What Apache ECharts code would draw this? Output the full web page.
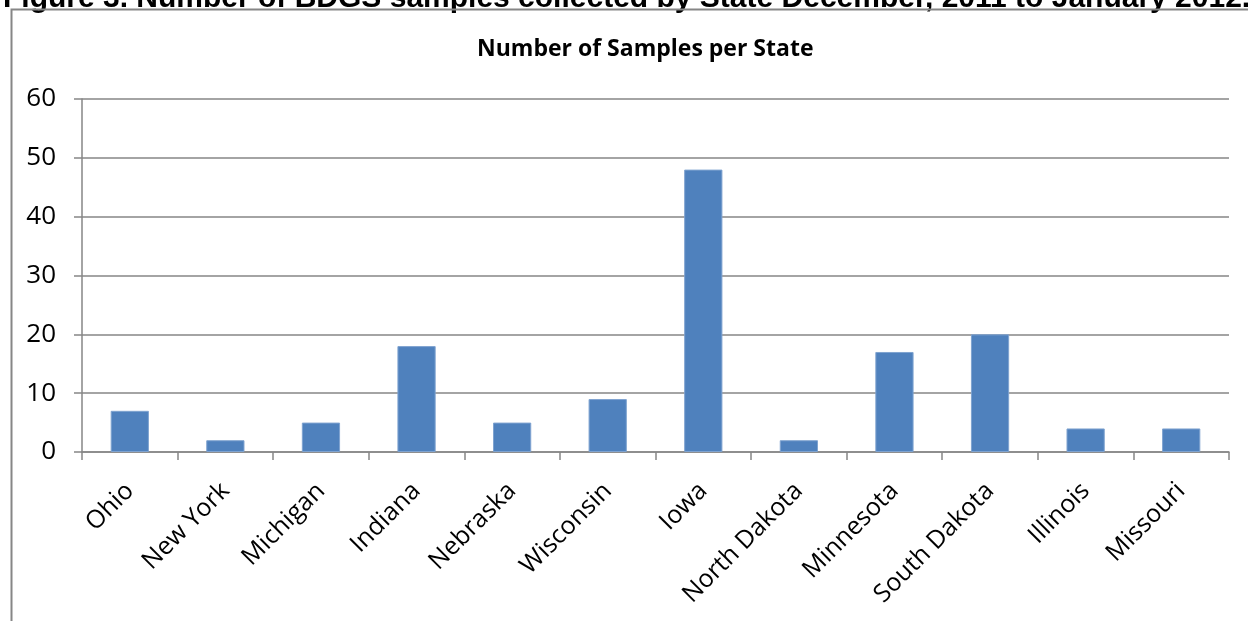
<!DOCTYPE html>
<html>
<head>
<meta charset="utf-8">
<script src="https://cdn.jsdelivr.net/npm/echarts@6/dist/echarts.min.js"></script>
<style>
  html, body { margin: 0; padding: 0; background: #ffffff; }
  #chart { width: 1248px; height: 621px; }
</style>
</head>
<body>
<div id="chart"></div>
<script>
// Samples collected per state
const states = ['Ohio', 'New York', 'Michigan', 'Indiana', 'Nebraska', 'Wisconsin',
  'Iowa', 'North Dakota', 'Minnesota', 'South Dakota', 'Illinois', 'Missouri'];
const samples = [7, 2, 5, 18, 5, 9, 48, 2, 17, 20, 4, 4];
const yTicks = [0, 10, 20, 30, 40, 50, 60];

const caption = 'Figure 3. Number of BDGS samples collected by State December, 2011 to January 2012.';
const chartTitle = 'Number of Samples per State';

const gray = '#868686';
const font = '"Open Sans", Lato, sans-serif';

const chart = echarts.init(document.getElementById('chart'), null, { renderer: 'canvas' });
chart.setOption({
  animation: false,
  backgroundColor: '#ffffff',
  title: {
    text: chartTitle,
    left: 472,
    top: 33,
    textStyle: { fontFamily: font, fontWeight: 'bold', fontSize: 23, color: '#000' }
  },
  graphic: [
    {
      type: 'text',
      left: 3,
      top: -16,
      silent: true,
      style: {
        text: caption,
        font: 'bold 30px "Liberation Sans", Arial, sans-serif',
        fill: '#000'
      }
    },
    {
      type: 'rect',
      silent: true,
      shape: { x: 11.5, y: 9.5, width: 1300, height: 700 },
      style: { fill: 'none', stroke: gray, lineWidth: 2 }
    }
  ],
  grid: { left: 82, right: 19, top: 99, bottom: 169, containLabel: false },
  xAxis: {
    type: 'category',
    data: states,
    axisLine: { lineStyle: { color: gray, width: 1.5 } },
    axisTick: { show: true, length: 8, alignWithLabel: false, lineStyle: { color: gray, width: 1.5 } },
    axisLabel: {
      rotate: 45,
      margin: 35,
      interval: 0,
      fontFamily: font,
      fontSize: 25,
      color: '#000'
    }
  },
  yAxis: {
    type: 'value',
    min: 0,
    max: 60,
    interval: 10,
    axisLine: { show: true, lineStyle: { color: gray, width: 1.5 } },
    axisTick: { show: true, length: 8, lineStyle: { color: gray, width: 1.5 } },
    axisLabel: {
      margin: 26,
      fontFamily: font,
      fontSize: 26,
      color: '#000',
      formatter: v => (yTicks.includes(v) ? String(v) : '')
    },
    splitLine: { show: true, lineStyle: { color: gray, width: 1.5 } }
  },
  series: [{
    type: 'bar',
    data: samples,
    barWidth: '40%',
    itemStyle: { color: '#4F81BD', borderColor: '#7FA3D0', borderWidth: 1 }
  }]
});
</script>
</body>
</html>
